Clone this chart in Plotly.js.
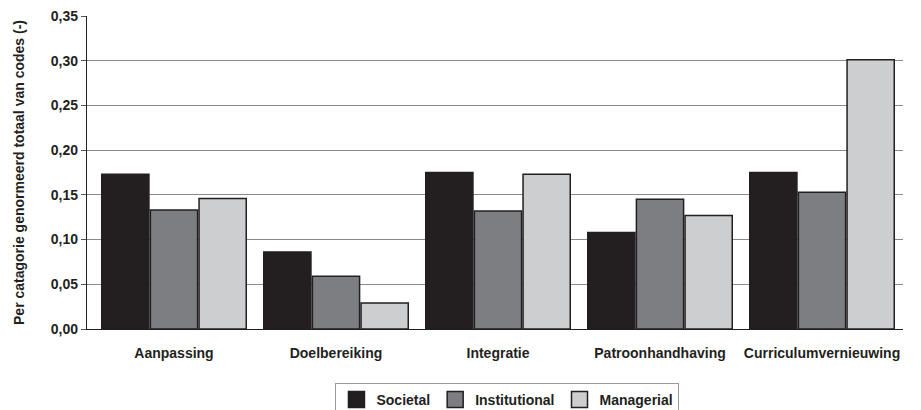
<!DOCTYPE html>
<html><head><meta charset="utf-8">
<script src="https://cdn.plot.ly/plotly-3.0.1.min.js"></script>
<style>html,body{margin:0;padding:0;background:#fff;}#chart{width:921px;height:410px;}</style>
</head><body><div id="chart"></div>
<script>
const categories = ["Aanpassing", "Doelbereiking", "Integratie", "Patroonhandhaving", "Curriculumvernieuwing"];
const societal = [0.173, 0.086, 0.175, 0.108, 0.175];
const institutional = [0.133, 0.059, 0.132, 0.145, 0.153];
const managerial = [0.146, 0.029, 0.173, 0.127, 0.301];
const seriesNames = ["Societal", "Institutional", "Managerial"];
const yTicks = [0, 0.05, 0.10, 0.15, 0.20, 0.25, 0.30, 0.35];
const yTickText = ["0,00", "0,05", "0,10", "0,15", "0,20", "0,25", "0,30", "0,35"];
const gridVals = [0.05, 0.10, 0.15, 0.20, 0.25, 0.30];

const colors = ["#231f20", "#7d7e82", "#cdced0"];
const F = "Liberation Sans, Arial, sans-serif";
const TXT = {family: F, size: 14, color: "#231f20", weight: "bold"};
const series = [societal, institutional, managerial];
const traces = series.map((y, i) => ({
  type: "bar", x: categories, y: y, name: seriesNames[i], showlegend: false,
  marker: {color: colors[i], line: {color: "#231f20", width: 1.5}},
  hoverinfo: "skip"
}));
// legend entries with larger square swatches
seriesNames.forEach((n, i) => traces.push({
  type: "scatter", mode: "markers", x: [null], y: [null], name: n,
  marker: {symbol: "square", size: 16, color: colors[i], line: {color: "#231f20", width: 1.5}},
  hoverinfo: "skip"
}));
// invisible trace to carry the grid axis
traces.push({type: "scatter", x: [categories[0]], y: [0], yaxis: "y2", mode: "markers",
  marker: {opacity: 0}, showlegend: false, hoverinfo: "skip"});

const layout = {
  width: 921, height: 410,
  margin: {l: 87, r: 18, t: 16, b: 81},
  paper_bgcolor: "#fff", plot_bgcolor: "rgba(0,0,0,0)",
  barmode: "group", bargap: 0.099, bargroupgap: 0.03,
  font: TXT,
  xaxis: {
    range: [-0.537, 4.5], type: "category",
    showline: true, linecolor: "#231f20", linewidth: 1.2,
    showgrid: false, ticks: "", ticklabelstandoff: 11,
    tickfont: TXT
  },
  yaxis: {
    range: [0, 0.35], tickvals: yTicks, ticktext: yTickText,
    showgrid: false, zeroline: false,
    showline: true, linecolor: "#231f20", linewidth: 1.2,
    ticks: "outside", ticklen: 5, tickcolor: "#555", tickwidth: 1,
    tickfont: TXT,
    title: {text: "Per catagorie genormeerd totaal van codes (-)", standoff: 22, font: TXT}
  },
  yaxis2: {
    overlaying: "y", range: [0, 0.35], tickvals: gridVals,
    showticklabels: false, showgrid: true, gridcolor: "#8a8a8a", gridwidth: 1,
    zeroline: false, showline: false, ticks: ""
  },
  legend: {
    orientation: "h", xref: "container", yref: "container",
    x: 0.551, xanchor: "center", y: 0.066, yanchor: "top",
    bordercolor: "#9a9a9a", borderwidth: 1, bgcolor: "#fff",
    font: TXT, itemsizing: "trace", tracegroupgap: 0
  },
  showlegend: true
};
Plotly.newPlot("chart", traces, layout, {displayModeBar: false, staticPlot: true});
</script></body></html>
